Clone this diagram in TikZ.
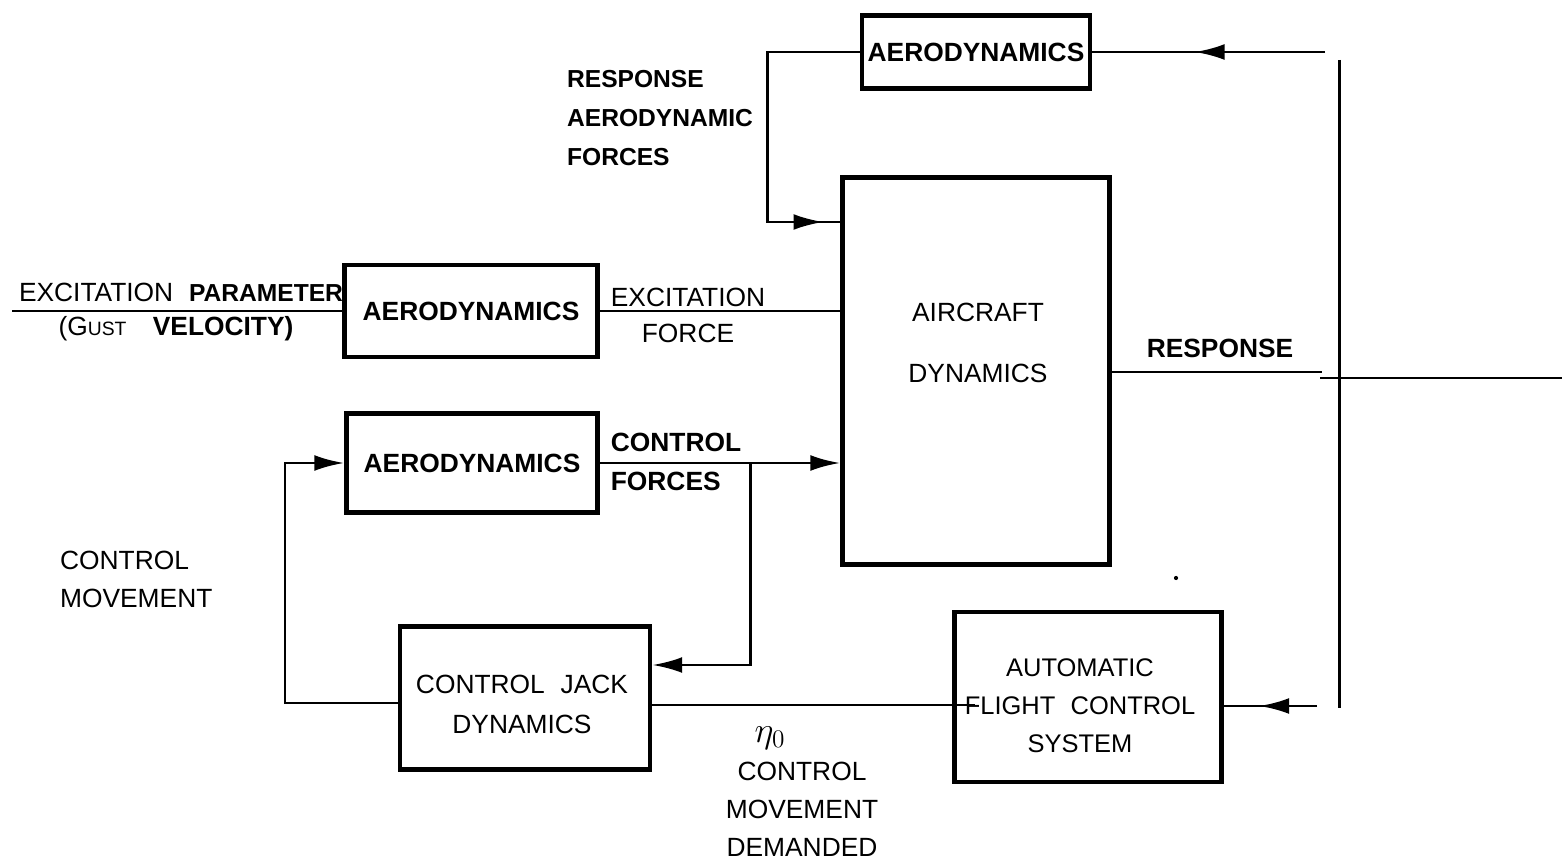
\documentclass[tikz,border=0pt]{standalone}
\usepackage{fontspec}
\setmainfont{Liberation Sans}
\usetikzlibrary{arrows.meta, positioning, decorations.markings}

\tikzset{
  blk/.style={draw, line width=2.6pt, inner sep=0pt},
  conn/.style={line width=1.7pt},
  txt/.style={font=\fontsize{15}{21.6}\selectfont, align=center, inner sep=1pt},
  hand/.style={font=\fontsize{15}{22}\selectfont\bfseries, align=left, inner sep=1pt},
  tip/.style={-{Latex[length=17pt,width=9pt]}},
  midarrow/.style={postaction={decorate}, decoration={markings,
    mark=at position #1 with {\arrow{Latex[length=17pt,width=9pt]}}}}
}

\begin{document}
\begin{tikzpicture}[x=0.02cm, y=-0.02cm]
\useasboundingbox (0,0) rectangle (1562,864);

% blocks
\node[blk, hand, minimum width=4.56cm, minimum height=1.46cm] (aerotop) at (976,52) {AERODYNAMICS};
\node[blk, minimum width=5.34cm, minimum height=7.74cm] (aircraft) at (976,371) {};
\node[blk, hand, minimum width=5.06cm, minimum height=1.84cm] (aeromid) at (471,311) {AERODYNAMICS};
\node[blk, hand, minimum width=5.02cm, minimum height=1.98cm] (aerolow) at (472,463) {AERODYNAMICS};
\node[blk, minimum width=5.0cm, minimum height=2.86cm] (jack) at (525,698) {};
\node[blk, minimum width=5.34cm, minimum height=3.4cm] (afcs) at (1088,697) {};

% texts in the blocks
\node[txt, font=\fontsize{15}{35}\selectfont] (actext) at (978,343) {AIRCRAFT\\DYNAMICS};
\node[txt, font=\fontsize{15}{22.8}\selectfont] (jacktext) at (522,704) {CONTROL\hspace{0.6em}JACK\\DYNAMICS};
\node[txt, font=\fontsize{14.5}{21.5}\selectfont] (afcstext) at (1080,706) {AUTOMATIC\\FLIGHT\hspace{0.6em}CONTROL\\SYSTEM};

% labels
\node[hand, anchor=west, font=\fontsize{14}{22}\selectfont\bfseries] (resaero) at (565,118) {RESPONSE\\AERODYNAMIC\\FORCES};
\node[txt] (excpar) at (181,292) {EXCITATION\hspace{0.6em}{\fontsize{14}{16}\selectfont\bfseries PARAMETER}};
\node[txt] (gust) at (176,329) {(G{\fontsize{11}{13}\selectfont UST}\hspace{1em}\textbf{VELOCITY)}};
\node[txt, font=\fontsize{15}{20.5}\selectfont] (excfor) at (688,315) {EXCITATION\\FORCE};
\node[hand] (ctlfor) at (676,462) {CONTROL\\FORCES};
\node[hand] (resp) at (1220,348) {RESPONSE};
\node[txt, align=left, anchor=west] (ctlmov) at (58,579) {CONTROL\\MOVEMENT};
\node[txt, font=\fontsize{22}{24}\selectfont] (eta) at (770,738) {$\eta_0$};
\node[txt] (demand) at (802,809) {CONTROL\\MOVEMENT\\DEMANDED};

% free ends
\coordinate (fbtop) at (1325,52);
\coordinate (raf) at (767,222);
\coordinate (gustin) at (12,311);
\coordinate (br) at (750,463);
\coordinate (jk) at (750,665);
\coordinate (lp) at (285,703);
\coordinate (dem) at (975,705);
\coordinate (ain) at (1317,706);
\coordinate (rs) at (1322,372);
\coordinate (outa) at (1320,378);
\coordinate (outb) at (1562,378);
\coordinate (vt) at (1339,60);
\coordinate (vb) at (1339,708);

% connectors
\draw[conn, midarrow=0.56] (fbtop) -- (aerotop.east);
\draw[conn, midarrow=0.95] (aerotop.west) -| (raf) -- (raf -| aircraft.west);
\draw[conn] (gustin) -- (aeromid.west);
\draw[conn] (aeromid.east) -- (aeromid.east -| aircraft.west);
\draw[conn, tip] (aerolow.east) -- (aerolow.east -| aircraft.west);
\draw[conn, tip] (br) -- (jk) -- (jk -| jack.east);
\draw[conn, tip] (jack.west |- lp) -- (lp) |- (aerolow.west);
\draw[conn] (dem -| jack.east) -- (dem);
\draw[conn, midarrow=0.62] (ain) -- (ain -| afcs.east);
\draw[conn] (aircraft.east |- rs) -- (rs);
\draw[conn] (outa) -- (outb);
\draw[conn] (vt) -- (vb);
\fill (1176,578) circle (1.2pt);
\end{tikzpicture}
\end{document}
